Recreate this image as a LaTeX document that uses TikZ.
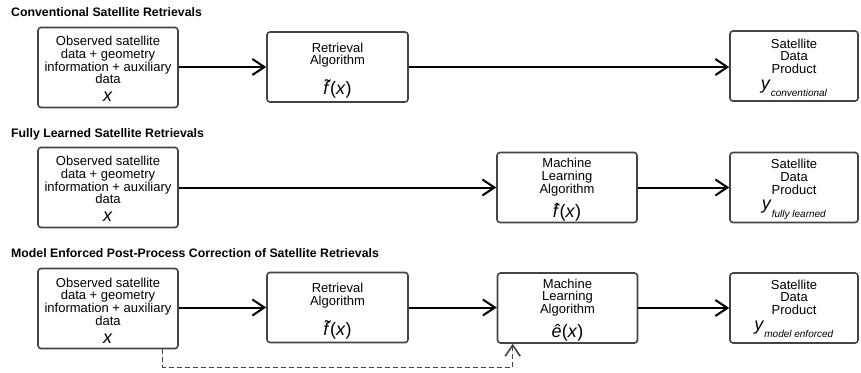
\documentclass[tikz,border=0pt]{standalone}
\usepackage{fontspec}
\setmainfont{Liberation Sans}
\usetikzlibrary{arrows.meta,calc}
\definecolor{boxgray}{HTML}{444444}
\newcommand{\tildef}{\ooalign{\textit{f}\cr\hidewidth\kern0.12em\raisebox{0.1em}{\char"02DC}\hidewidth\cr}}
\newcommand{\hatf}{\ooalign{\textit{f}\cr\hidewidth\kern0.1em\raisebox{0.06em}{\char"02C6}\hidewidth\cr}}
\newcommand{\mathsz}{\fontsize{18}{18}\selectfont}
\newcommand{\subt}[1]{\raisebox{-7.5pt}{\fontsize{10}{10}\selectfont\textit{#1}}}
\newcommand{\obs}{Observed satellite\\data + geometry\\information + auxiliary\\data\\[5.4pt]{\fontsize{18}{18}\selectfont\textit{x}}}
\begin{document}
\begin{tikzpicture}[x=1pt,y=-1pt,
  box/.style={draw=boxgray, line width=1.6pt, rounded corners=3pt, inner sep=0pt},
  abox/.style={box, minimum width=140pt, minimum height=80pt},
  rbox/.style={box, minimum width=141pt, minimum height=70pt},
  mbox/.style={box, minimum width=140pt, minimum height=70pt},
  pbox/.style={box, minimum width=128pt, minimum height=70pt},
  txt/.style={anchor=north, inner sep=0pt, align=center, font=\fontsize{13}{12.7}\selectfont},
  title/.style={anchor=base west, inner sep=0pt, font=\bfseries\fontsize{12.3}{13}\selectfont},
  arr/.style={line width=2pt, -{Straight Barb[length=12pt,width=16pt,line width=2pt]}},
  dashline/.style={draw=boxgray, line width=1pt, dash pattern=on 5pt off 3pt,
    -{Straight Barb[length=11pt,width=15pt,line width=1.6pt]}}
]
\useasboundingbox (0,0) rectangle (861,372);

% Row 1
\node[title] (t1) at (11,16.7) {Conventional Satellite Retrievals};
\node[abox] (a1) at (108,67.5) {};
\node[rbox] (b1) at (337.5,67) {};
\node[pbox] (c1) at (794,66) {};
\node[txt] (a1t) at ($(a1.north)+(0,9.3)$) {\obs};
\node[txt] (b1t) at ($(b1.north)+(0,11.3)$) {Retrieval\\Algorithm\\[13pt]{\mathsz\tildef(\textit{x})}};
\node[txt] (c1t) at ($(c1.north)+(0,8.2)$) {Satellite\\Data\\Product\\[3pt]{\mathsz\textit{y}}\subt{conventional}};
\draw[arr] (a1.east |- b1.west) -- (b1.west);
\draw[arr] (b1.east) -- (b1.east -| c1.west);

% Row 2
\node[title] (t2) at (11,137.3) {Fully Learned Satellite Retrievals};
\node[abox] (a2) at (108,187.5) {};
\node[mbox] (m2) at (567,187.5) {};
\node[pbox] (c2) at (794,187.5) {};
\node[txt] (a2t) at ($(a2.north)+(0,9.3)$) {\obs};
\node[txt] (m2t) at ($(m2.north)+(0,6.3)$) {Machine\\Learning\\Algorithm\\[7.5pt]{\mathsz\hatf(\textit{x})}};
\node[txt] (c2t) at ($(c2.north)+(0,7.3)$) {Satellite\\Data\\Product\\[3pt]{\mathsz\textit{y}}\subt{fully learned}};
\draw[arr] (a2.east |- m2.west) -- (m2.west);
\draw[arr] (m2.east) -- (c2.west);

% Row 3
\node[title] (t3) at (11,257.3) {Model Enforced Post-Process Correction of Satellite Retrievals};
\node[abox] (a3) at (108,308.5) {};
\node[rbox] (b3) at (337.5,307.5) {};
\node[mbox] (m3) at (567.5,308) {};
\node[pbox] (c3) at (794,308) {};
\node[txt] (a3t) at ($(a3.north)+(0,9.8)$) {\obs};
\node[txt] (b3t) at ($(b3.north)+(0,11.3)$) {Retrieval\\Algorithm\\[13pt]{\mathsz\tildef(\textit{x})}};
\node[txt] (m3t) at ($(m3.north)+(0,6.3)$) {Machine\\Learning\\Algorithm\\[7.5pt]{\mathsz\textit{ê}(\textit{x})}};
\node[txt] (c3t) at ($(c3.north)+(0,7.3)$) {Satellite\\Data\\Product\\[3pt]{\mathsz\textit{y}}\subt{model enforced}};
\draw[arr] (a3.east |- b3.west) -- (b3.west);
\draw[arr] (b3.east) -- (b3.east -| m3.west);
\draw[arr] (m3.east) -- (c3.west);

% dashed feedback
\coordinate (ds) at ($(a3.south east)+(-16,0)$);
\coordinate (de) at ($(m3.south west)+(16,0)$);
\coordinate (db) at (0,367);
\draw[dashline] (ds) |- (db -| de) -- (de);
\end{tikzpicture}
\end{document}
